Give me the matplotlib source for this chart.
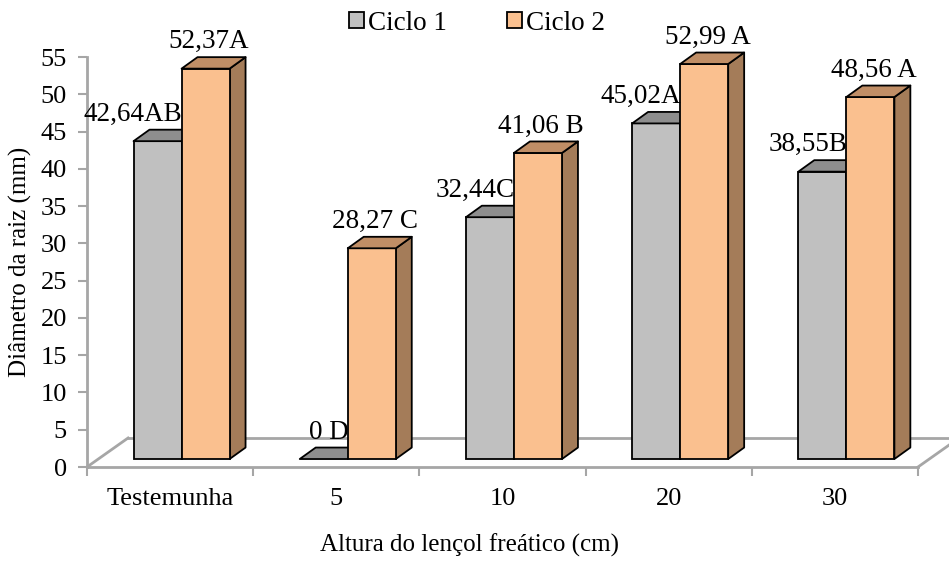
import matplotlib
matplotlib.use("Agg")
import matplotlib.pyplot as plt
from matplotlib.patches import Polygon, Patch

plt.rcParams["font.family"] = ["Liberation Serif", "DejaVu Serif"]

categories = ["Testemunha", "5", "10", "20", "30"]
ciclo1 = [42.64, 0.0, 32.44, 45.02, 38.55]
ciclo2 = [52.37, 28.27, 41.06, 52.99, 48.56]
labels1 = ["42,64AB", "0 D", "32,44C", "45,02A", "38,55B"]
labels2 = ["52,37A", "28,27 C", "41,06 B", "52,99 A", "48,56 A"]
yticks = list(range(0, 56, 5))

# fake 3-D geometry, in data units
FLOOR_DX, FLOOR_DY = 0.247, 3.89   # floor depth
FRONT_DX, FRONT_DY = 0.069, 1.07   # where the bar fronts sit on the floor
BAR_DX, BAR_DY = 0.096, 1.54       # bar depth
BAR_W = 0.289

styles = [
    dict(front="#C0C0C0", top="#8E8E8E", side="#7F7F7F"),
    dict(front="#FAC08F", top="#C08E66", side="#A47C59"),
]
FLOOR_COLOR = "#A6A6A6"

fig = plt.figure(figsize=(9.49, 5.63), dpi=100)
ax = fig.add_axes([87 / 949, 96 / 563, 831 / 949, 410 / 563])
ax.set_xlim(-0.5, len(categories) - 0.5)
ax.set_ylim(0, 55)
for s in ax.spines.values():
    s.set_visible(False)

# floor outline and value axis
x0, x1 = -0.5, len(categories) - 0.5
floor = dict(color=FLOOR_COLOR, lw=2, clip_on=False, zorder=1)
ax.plot([x0, x1], [0, 0], **floor)
ax.plot([x0, x0 + FLOOR_DX], [0, FLOOR_DY], **floor)
ax.plot([x1, x1 + FLOOR_DX], [0, FLOOR_DY], **floor)
ax.plot([x0 + FLOOR_DX, x1 + FLOOR_DX], [FLOOR_DY, FLOOR_DY], **floor)
ax.plot([x0, x0], [0, 55], **floor)


def draw_bar(xl, v, st):
    b = FRONT_DY
    top = [(xl, b + v), (xl + BAR_W, b + v),
           (xl + BAR_W + BAR_DX, b + v + BAR_DY), (xl + BAR_DX, b + v + BAR_DY)]
    side = [(xl + BAR_W, b), (xl + BAR_W + BAR_DX, b + BAR_DY),
            (xl + BAR_W + BAR_DX, b + v + BAR_DY), (xl + BAR_W, b + v)]
    kw = dict(edgecolor="black", lw=1.3, joinstyle="round", clip_on=False, zorder=3)
    if v > 0:
        ax.add_patch(Polygon(side, closed=True, facecolor=st["side"], **kw))
        ax.bar(xl, v, width=BAR_W, bottom=b, align="edge", color=st["front"],
               edgecolor="black", lw=1.3, zorder=3, clip_on=False)
    ax.add_patch(Polygon(top, closed=True, facecolor=st["top"], **kw))


for i in range(len(categories)):
    xc = i + FRONT_DX
    xl1 = xc - BAR_W
    xl2 = xc
    draw_bar(xl1, ciclo1[i], styles[0])
    draw_bar(xl2, ciclo2[i], styles[1])
    ax.text(xl1 + BAR_W + 0.005, FRONT_DY + ciclo1[i] + BAR_DY + 0.4, labels1[i],
            ha="right", va="bottom", fontsize=19.5, zorder=5)
    ax.text(xl2 + BAR_W / 2 + 0.02, FRONT_DY + ciclo2[i] + BAR_DY + 0.4, labels2[i],
            ha="center", va="bottom", fontsize=19.5, zorder=5)

ax.set_yticks(yticks)
ax.set_yticklabels([str(t) for t in yticks])
ax.tick_params(axis="y", colors=FLOOR_COLOR, length=6.5, width=1.5, pad=8,
               labelsize=19, labelcolor="black")
ax.set_xticks(range(len(categories)))
ax.set_xticklabels(categories)
ax.set_xticks([i - 0.5 for i in range(len(categories) + 1)], minor=True)
ax.tick_params(axis="x", which="major", length=0, pad=15, labelsize=19)
ax.tick_params(axis="x", which="minor", colors=FLOOR_COLOR, length=6.5, width=1.5)

ax.set_ylabel("Diâmetro da raiz (mm)", fontsize=18, labelpad=6)
fig.text(469 / 949, 1 - 545 / 563, "Altura do lençol freático (cm)",
         ha="center", va="center", fontsize=18)

handles = [Patch(facecolor=st["front"], edgecolor="black", lw=1.3) for st in styles]
fig.legend(handles, ["Ciclo 1", "Ciclo 2"], loc="center", bbox_to_anchor=(477 / 949, 1 - 23 / 563),
           ncol=2, frameon=False, fontsize=19.5, handlelength=0.55, handleheight=0.55,
           handletextpad=0.15, columnspacing=2.2)

fig.savefig("out.png", dpi=100)
